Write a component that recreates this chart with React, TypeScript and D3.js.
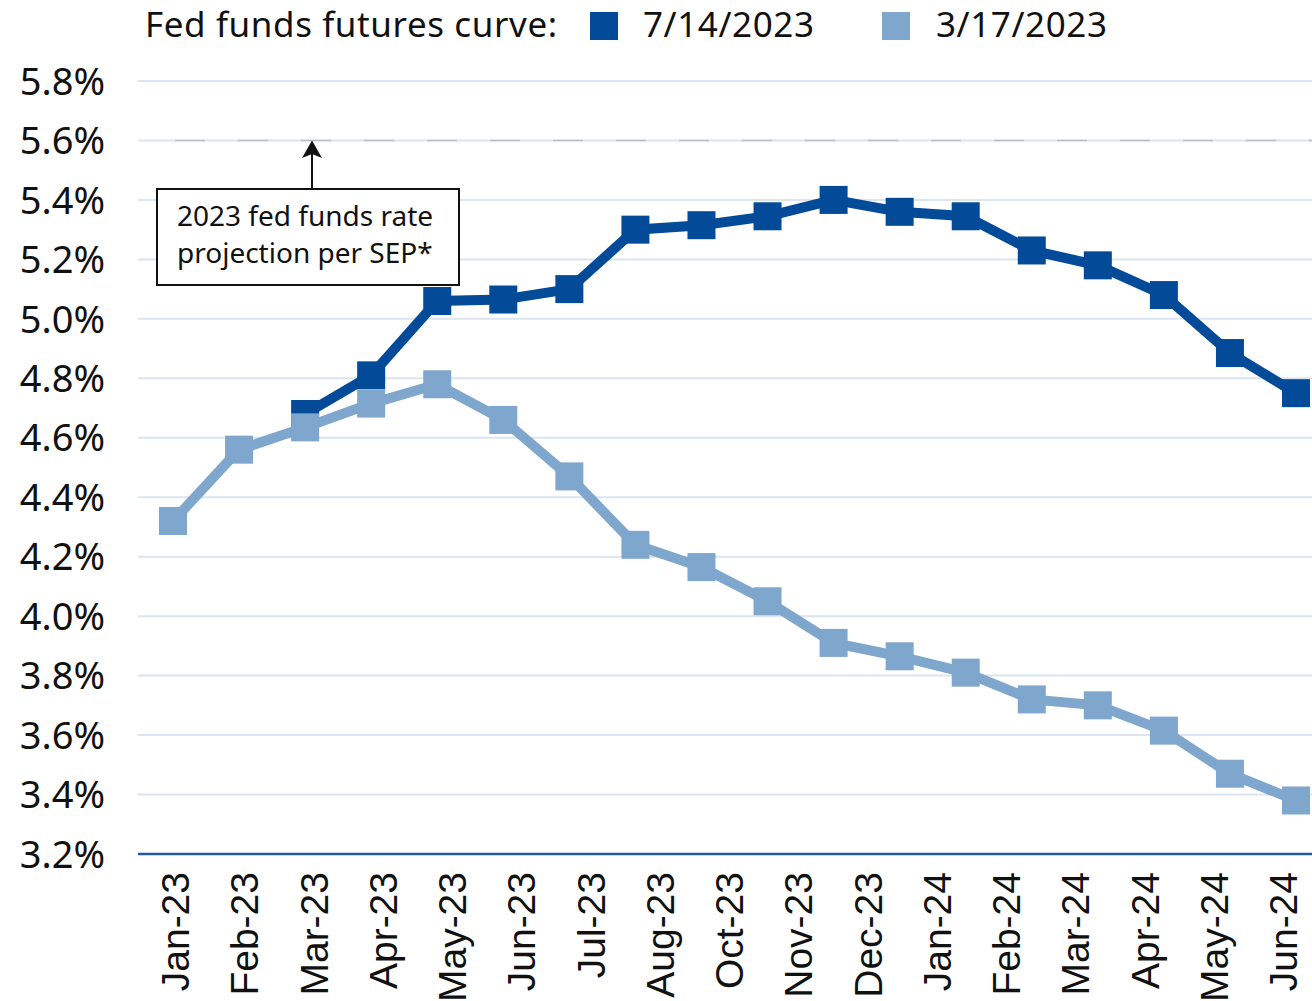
import React from "react";
import * as d3 from "d3";

const months = [
  "Jan-23", "Feb-23", "Mar-23", "Apr-23", "May-23", "Jun-23", "Jul-23", "Aug-23", "Sep-23",
  "Oct-23", "Nov-23", "Dec-23", "Jan-24", "Feb-24", "Mar-24", "Apr-24", "May-24", "Jun-24",
];
const tickLabels = [
  "Jan-23", "Feb-23", "Mar-23", "Apr-23", "May-23", "Jun-23", "Jul-23", "Aug-23",
  "Oct-23", "Nov-23", "Dec-23", "Jan-24", "Feb-24", "Mar-24", "Apr-24", "May-24", "Jun-24",
];
// 7/14/2023 curve starts at Mar-23
const july = [
  null, null, 4.68, 4.81, 5.06, 5.065, 5.10, 5.30, 5.315,
  5.345, 5.40, 5.36, 5.345, 5.23, 5.18, 5.08, 4.885, 4.75,
];
const march = [
  4.32, 4.56, 4.635, 4.715, 4.78, 4.66, 4.47, 4.24, 4.165,
  4.05, 3.91, 3.865, 3.81, 3.72, 3.70, 3.615, 3.47, 3.38,
];
const yTicks = [3.2, 3.4, 3.6, 3.8, 4.0, 4.2, 4.4, 4.6, 4.8, 5.0, 5.2, 5.4, 5.6, 5.8];
const sepProjection = 5.6;

const DARK = "#034b98";
const LIGHT = "#7fa6cd";
const GRID = "#dce5ef";
const FONT = "'Noto Sans', Lato, sans-serif";

export default function App() {
  const width = 1312, height = 1001;
  const plotLeft = 138, plotRight = 1312;

  const x = d3.scalePoint<string>().domain(months).range([173, 1296]);
  const xLab = d3.scalePoint<string>().domain(tickLabels).range([175, 1283]);
  const y = d3.scaleLinear().domain([3.2, 5.8]).range([854, 81]);

  const line = d3
    .line<number | null>()
    .defined((d) => d != null)
    .x((_, i) => x(months[i])!)
    .y((d) => y(d as number));

  // light series drawn on top, as in the original
  const series = [
    { name: "7/14/2023", values: july, color: DARK },
    { name: "3/17/2023", values: march, color: LIGHT },
  ];
  const sq = 28;

  return (
    <svg width={width} height={height} style={{ position: "absolute", left: 0, top: 0, background: "#fff" }}>
      {/* legend */}
      <g fontFamily={FONT} fontSize={35} letterSpacing={0.6} fill="#111">
        <text x={145} y={37}>Fed funds futures curve:</text>
        <rect x={590} y={12} width={28} height={28} fill={DARK} />
        <text x={643} y={37}>7/14/2023</text>
        <rect x={882} y={12} width={28} height={28} fill={LIGHT} />
        <text x={936} y={37}>3/17/2023</text>
      </g>

      {/* grid */}
      {yTicks.slice(1).map((t) => (
        <line key={t} x1={plotLeft} x2={plotRight} y1={y(t)} y2={y(t)} stroke={GRID} strokeWidth={2} />
      ))}
      <line x1={175} x2={plotRight} y1={y(sepProjection)} y2={y(sepProjection)}
        stroke="#b8c0ca" strokeWidth={1.5} strokeDasharray="30,33" />
      {yTicks.map((t) => (
        <text key={t} x={105} y={y(t)} dy="0.36em" textAnchor="end" fontFamily={FONT} fontSize={38} fill="#111">
          {t.toFixed(1)}%
        </text>
      ))}

      {/* x axis */}
      <line x1={plotLeft} x2={plotRight} y1={y(3.2)} y2={y(3.2)} stroke="#1f5a9e" strokeWidth={2.5} />
      {tickLabels.map((m) => (
        <text key={m} transform={`translate(${xLab(m)},${872}) rotate(-90)`} dy="0.36em" textAnchor="end"
          fontFamily="'Liberation Sans', Arial, sans-serif" fontSize={39} fill="#111">
          {m}
        </text>
      ))}

      {/* series */}
      {series.map((s) => (
        <g key={s.name}>
          <path d={line(s.values) || ""} fill="none" stroke={s.color} strokeWidth={10} strokeLinejoin="miter" />
          {s.values.map((v, i) =>
            v == null ? null : (
              <rect key={i} x={x(months[i])! - sq / 2} y={y(v) - sq / 2} width={sq} height={sq} fill={s.color} />
            )
          )}
        </g>
      ))}

      {/* annotation */}
      <line x1={312} x2={312} y1={188} y2={152} stroke="#111" strokeWidth={2} />
      <path d={`M312,${y(sepProjection)} L302,158 L312,154 L322,158 Z`} fill="#111" />
      <rect x={157} y={189} width={302} height={96} fill="#fff" stroke="#111" strokeWidth={2} />
      <text x={177} y={226} fontFamily={FONT} fontSize={28} fill="#111">2023 fed funds rate</text>
      <text x={177} y={263} fontFamily={FONT} fontSize={28} fill="#111">projection per SEP*</text>
    </svg>
  );
}
